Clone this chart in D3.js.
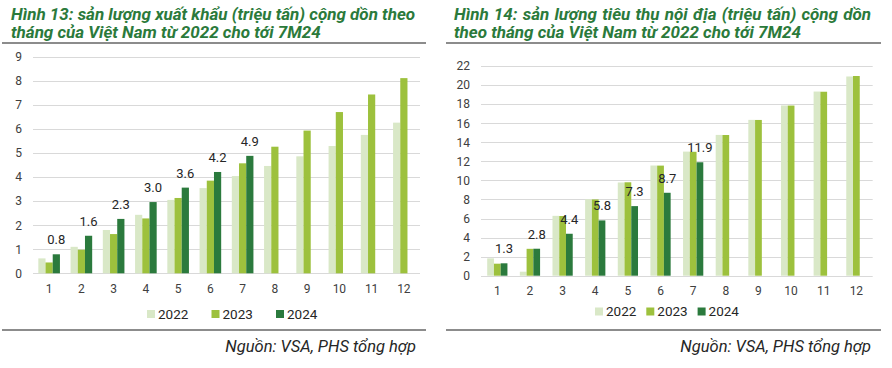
<!DOCTYPE html>
<html>
<head>
<meta charset="utf-8">
<script src="https://cdn.jsdelivr.net/npm/d3@7"></script>
<style>
  html, body { margin: 0; padding: 0; background: #fff; }
  svg { display: block; font-family: Roboto, "Noto Sans", sans-serif; }
</style>
</head>
<body>
<svg id="chart" width="892" height="368"></svg>
<script>
// ---------- data ----------
const months = ["1","2","3","4","5","6","7","8","9","10","11","12"];
const seriesNames = ["2022", "2023", "2024"];

// Hình 13: export volume, cumulative (million tonnes)
const export2022 = [0.62, 1.10, 1.80, 2.43, 3.05, 3.54, 4.04, 4.46, 4.86, 5.29, 5.75, 6.26];
const export2023 = [0.45, 0.98, 1.63, 2.28, 3.13, 3.85, 4.57, 5.26, 5.93, 6.70, 7.43, 8.11];
const export2024 = [0.79, 1.56, 2.26, 2.96, 3.56, 4.21, 4.88];
const exportTicks = [0, 1, 2, 3, 4, 5, 6, 7, 8, 9];

// Hình 14: domestic consumption, cumulative (million tonnes)
const domestic2022 = [1.82, 0.42, 6.28, 8.02, 9.78, 11.56, 13.02, 14.77, 16.35, 17.86, 19.32, 20.90];
const domestic2023 = [1.26, 2.82, 6.26, 8.00, 9.80, 11.55, 13.00, 14.76, 16.34, 17.85, 19.30, 20.95];
const domestic2024 = [1.30, 2.83, 4.40, 5.80, 7.30, 8.70, 11.90];
const domesticTicks = [0, 2, 4, 6, 8, 10, 12, 14, 16, 18, 20, 22];

const title13 = ["Hình 13: sản lượng xuất khẩu (triệu tấn) cộng dồn theo",
                 "tháng của Việt Nam từ 2022 cho tới 7M24"];
const title14 = ["Hình 14: sản lượng tiêu thụ nội địa (triệu tấn) cộng dồn",
                 "theo tháng của Việt Nam từ 2022 cho tới 7M24"];
const sourceText = "Nguồn: VSA, PHS tổng hợp";

// ---------- styles ----------
const colors = { "2022": "#d9e8c7", "2023": "#9dc13d", "2024": "#2b7a3d" };
const titleColor = "#2b7a3b";

const svg = d3.select("#chart");

function drawPanel(cfg) {
  const g = svg.append("g");

  // title
  cfg.title.forEach((line, i) => {
    const t = g.append("text")
      .attr("x", cfg.titleX)
      .attr("y", 20 + i * 18)
      .attr("fill", titleColor)
      .attr("font-size", 17)
      .attr("font-weight", "bold")
      .attr("font-style", "italic")
      .text(line);
    if (cfg.justify && i === 0) {
      const natural = t.node().getComputedTextLength();
      const spaces = line.split(" ").length - 1;
      const target = cfg.ruleX2 - 10 - cfg.titleX;
      if (natural < target) t.attr("word-spacing", (target - natural) / spaces);
    }
  });

  // rules
  [43, 330].forEach(yy => {
    g.append("line")
      .attr("x1", cfg.ruleX1).attr("x2", cfg.ruleX2)
      .attr("y1", yy).attr("y2", yy)
      .attr("stroke", "#1a1a1a").attr("stroke-width", 1.2);
  });

  const y = d3.scaleLinear().domain([0, cfg.ymax]).range([cfg.y0, cfg.y1]);
  const x0 = d3.scaleBand().domain(months).range([cfg.x0, cfg.x1])
    .paddingInner(cfg.pad).paddingOuter(cfg.pad / 2);
  const x1 = d3.scaleBand().domain(seriesNames).range([0, x0.bandwidth()]);

  // grid
  g.append("g").selectAll("line").data(cfg.ticks).join("line")
    .attr("x1", cfg.x0).attr("x2", cfg.x1)
    .attr("y1", d => Math.round(y(d)) + 0.5).attr("y2", d => Math.round(y(d)) + 0.5)
    .attr("stroke", "#d9d9d9").attr("stroke-width", 1);

  // y axis
  const yAxis = d3.axisLeft(y).tickValues(cfg.ticks).tickSize(0).tickPadding(cfg.x0 - cfg.yLabelX);
  const ya = g.append("g").attr("transform", `translate(${cfg.x0},0)`).call(yAxis);
  ya.select(".domain").remove();
  ya.selectAll("text").attr("font-size", 12).attr("fill", "#404040")
    .attr("font-family", "Roboto, sans-serif");

  // x axis
  const xAxis = d3.axisBottom(x0).tickSize(0).tickPadding(11);
  const xa = g.append("g").attr("transform", `translate(0,${cfg.y0})`).call(xAxis);
  xa.select(".domain").remove();
  xa.selectAll("text").attr("font-size", 12).attr("fill", "#404040")
    .attr("font-family", "Roboto, sans-serif");

  // bars
  cfg.series.forEach((vals, si) => {
    const name = seriesNames[si];
    g.append("g").selectAll("rect").data(vals).join("rect")
      .attr("x", (d, i) => x0(months[i]) + x1(name))
      .attr("y", d => y(d))
      .attr("width", x1.bandwidth())
      .attr("height", d => y(0) - y(d))
      .attr("fill", colors[name]);
  });

  // data labels for 2024
  g.append("g").selectAll("text").data(cfg.series[2]).join("text")
    .attr("x", (d, i) => x0(months[i]) + x1("2024") + x1.bandwidth() / 2)
    .attr("y", d => y(d) - 10)
    .attr("text-anchor", "middle")
    .attr("font-size", 13)
    .attr("fill", "#262626")
    .text(d => d.toFixed(1));

  // legend
  const lg = g.append("g").attr("transform", `translate(${cfg.legendX},${cfg.legendY})`);
  seriesNames.forEach((name, i) => {
    const it = lg.append("g").attr("transform", `translate(${i * cfg.legendStep},0)`);
    it.append("rect").attr("x", 0).attr("y", -4).attr("width", 8).attr("height", 8)
      .attr("fill", colors[name]);
    it.append("text").attr("x", 11).attr("y", 0).attr("dy", "0.36em")
      .attr("font-size", 13.5).attr("fill", "#262626").text(name);
  });

  // source
  g.append("text")
    .attr("x", cfg.sourceX).attr("y", 352)
    .attr("text-anchor", "end")
    .attr("font-size", 16.5).attr("font-style", "italic")
    .attr("fill", "#262626")
    .text(sourceText);
}

drawPanel({
  title: title13, titleX: 11, justify: false,
  ruleX1: 2, ruleX2: 426,
  x0: 33, x1: 420, y0: 273.3, y1: 56.7, ymax: 9, ticks: exportTicks,
  pad: 0.33, yLabelX: 22,
  series: [export2022, export2023, export2024],
  legendX: 147, legendY: 314, legendStep: 64.5,
  sourceX: 416
});

drawPanel({
  title: title14, titleX: 454, justify: true,
  ruleX1: 446, ruleX2: 881,
  x0: 481, x1: 872.7, y0: 275.7, y1: 66, ymax: 22, ticks: domesticTicks,
  pad: 0.38, yLabelX: 470,
  series: [domestic2022, domestic2023, domestic2024],
  legendX: 595, legendY: 311.5, legendStep: 51.3,
  sourceX: 871
});
</script>
</body>
</html>
